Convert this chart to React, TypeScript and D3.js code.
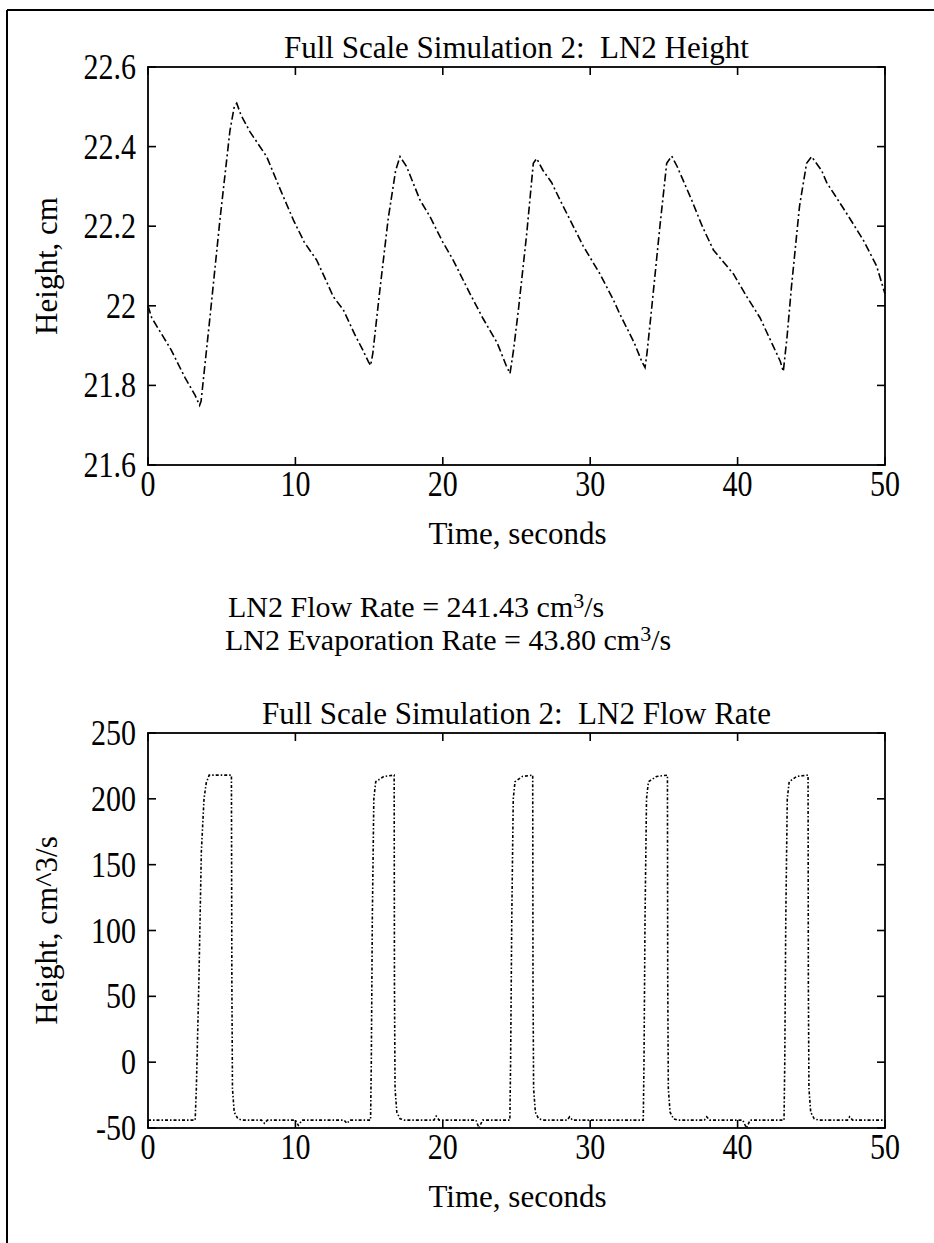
import React from "react";
import * as d3 from "d3";

// ---------- Data ----------
const xTicks = [0, 10, 20, 30, 40, 50];
const heightTicks = [21.6, 21.8, 22, 22.2, 22.4, 22.6];
const heightTickLabels = ["21.6", "21.8", "22", "22.2", "22.4", "22.6"];
const flowTicks = [-50, 0, 50, 100, 150, 200, 250];
const flowTickLabels = ["-50", "0", "50", "100", "150", "200", "250"];

const heightTime = [
  0, 0.25, 1.56, 2.5, 3.2, 3.5, 3.6, 4.2, 4.88, 5.56, 5.85, 6.02, 6.3, 6.92, 8.05, 9.0, 9.86, 10.6, 11.44, 12.0,
  12.57, 13.25, 14.0, 14.57, 14.95, 15.1, 15.25, 15.7, 16.3, 16.8, 17.1, 17.54, 18.45, 19.13, 20.0, 20.7, 21.85,
  22.7, 23.7, 24.3, 24.56, 24.8, 25.13, 25.69, 26.14, 26.37, 26.8, 27.38, 27.95, 28.63, 29.53, 30.66, 31.57, 32.0,
  33.0, 33.5, 33.72, 33.85, 34.16, 34.73, 35.19, 35.53, 35.9, 36.88, 37.6, 38.36, 39.72, 40.62, 41.52, 42.4, 42.9,
  43.1, 43.35, 43.66, 44.2, 44.68, 45.02, 45.7, 46.04, 47.4, 48.53, 49.43, 50,
];
const heightValue = [
  22.0, 21.97, 21.89, 21.82, 21.775, 21.75, 21.76, 21.97, 22.216, 22.44, 22.5, 22.509, 22.48, 22.437, 22.375,
  22.29, 22.216, 22.16, 22.115, 22.07, 22.023, 21.99, 21.93, 21.889, 21.86, 21.85, 21.88, 22.03, 22.22, 22.34,
  22.375, 22.35, 22.266, 22.224, 22.16, 22.115, 22.03, 21.97, 21.906, 21.85, 21.83, 21.889, 21.99, 22.18, 22.358,
  22.37, 22.34, 22.31, 22.266, 22.216, 22.15, 22.08, 22.015, 21.98, 21.906, 21.86, 21.845, 21.88, 21.99, 22.2,
  22.358, 22.376, 22.35, 22.266, 22.2, 22.14, 22.08, 22.023, 21.97, 21.9, 21.86, 21.835, 21.92, 22.05, 22.25,
  22.358, 22.375, 22.34, 22.31, 22.232, 22.165, 22.1, 22.03,
];

const flowTime = [
  0, 3.2, 3.28, 3.45, 3.62, 3.8, 3.95, 4.15, 5.66, 5.69, 5.73, 5.85, 6.1, 6.4, 7.7, 7.9, 8.1, 10.0, 10.2, 10.45,
  13.3, 13.5, 13.7, 15.1, 15.15, 15.22, 15.32, 15.45, 16.0, 16.7, 16.72, 16.76, 16.88, 17.1, 17.4, 19.4, 19.55,
  19.75, 22.25, 22.45, 22.7, 24.55, 24.6, 24.68, 24.78, 24.9, 25.4, 26.1, 26.12, 26.16, 26.28, 26.5, 26.8, 28.45,
  28.6, 28.8, 33.6, 33.65, 33.72, 33.82, 33.95, 34.5, 35.24, 35.26, 35.3, 35.42, 35.65, 35.95, 37.75, 37.9, 38.1,
  40.35, 40.6, 40.85, 43.15, 43.2, 43.27, 43.37, 43.5, 44.0, 44.78, 44.8, 44.84, 44.96, 45.2, 45.5, 47.45, 47.6,
  47.8, 50,
];
const flowValue = [
  -44, -44, -20, 60, 160, 200, 212, 218, 218, 60, -20, -38, -43, -44, -44, -46.5, -44, -44, -48, -44,
  -44, -46.5, -44, -44, 0, 110, 200, 213, 217, 218, 60, -20, -38, -43, -44, -44, -41,
  -44, -44, -50, -44, -44, 0, 110, 200, 213, 217, 218, 60, -20, -38, -43, -44, -44,
  -41.5, -44, -44, 0, 110, 200, 213, 217, 218, 60, -20, -38, -43, -44, -44, -41.5, -44,
  -44, -50, -44, -44, 0, 110, 200, 213, 217, 218, 60, -20, -38, -43, -44, -44, -41.5,
  -44, -44,
];

// ---------- Layout ----------
const W = 934;
const H = 1243;
const FONT = "'Liberation Serif', 'Times New Roman', serif";
const TICK_FS = 30;
const TICK_SY = 1.22;
const LABEL_FS = 31;
const TICK_LEN = 8;

type PanelProps = {
  top: number;
  bottom: number;
  yDomain: [number, number];
  yTicks: number[];
  yTickLabels: string[];
  title: string;
  yLabel: string;
  xs: number[];
  ys: number[];
  dash: string;
};

const X0 = 148;
const X1 = 885;

function Panel({ top, bottom, yDomain, yTicks, yTickLabels, title, yLabel, xs, ys, dash }: PanelProps) {
  const x = d3.scaleLinear().domain([0, 50]).range([X0, X1]);
  const y = d3.scaleLinear().domain(yDomain).range([bottom, top]);
  const line = d3
    .line<number>()
    .x((_, i) => x(xs[i]))
    .y((d) => y(d));
  const path = line(ys) || "";
  const midY = (top + bottom) / 2;
  return (
    <g>
      <text
        x={(X0 + X1) / 2}
        y={top - 9}
        textAnchor="middle"
        fontSize={LABEL_FS}
        fontFamily={FONT}
        xmlSpace="preserve"
      >
        {title}
      </text>
      <path d={path} fill="none" stroke="#000" strokeWidth={1.6} strokeDasharray={dash} />
      <rect x={X0} y={top} width={X1 - X0} height={bottom - top} fill="none" stroke="#000" strokeWidth={1.8} />
      {xTicks.map((t) => (
        <g key={"x" + t}>
          <line x1={x(t)} x2={x(t)} y1={bottom} y2={bottom - TICK_LEN} stroke="#000" strokeWidth={1.6} />
          <line x1={x(t)} x2={x(t)} y1={top} y2={top + TICK_LEN} stroke="#000" strokeWidth={1.6} />
          <text
            transform={`translate(${x(t)}, ${bottom + 31}) scale(1, ${TICK_SY})`}
            textAnchor="middle"
            fontSize={TICK_FS}
            fontFamily={FONT}
          >
            {String(t)}
          </text>
        </g>
      ))}
      {yTicks.map((t, i) => (
        <g key={"y" + t}>
          <line x1={X0} x2={X0 + TICK_LEN} y1={y(t)} y2={y(t)} stroke="#000" strokeWidth={1.6} />
          <line x1={X1} x2={X1 - TICK_LEN} y1={y(t)} y2={y(t)} stroke="#000" strokeWidth={1.6} />
          <text
            transform={`translate(${X0 - 12}, ${y(t) + 12}) scale(1, ${TICK_SY})`}
            textAnchor="end"
            fontSize={TICK_FS}
            fontFamily={FONT}
          >
            {yTickLabels[i]}
          </text>
        </g>
      ))}
      <text
        transform={`translate(57, ${midY}) rotate(-90)`}
        textAnchor="middle"
        fontSize={LABEL_FS}
        fontFamily={FONT}
      >
        {yLabel}
      </text>
      <text x={(X0 + X1) / 2 + 1} y={bottom + 79} textAnchor="middle" fontSize={LABEL_FS} fontFamily={FONT}>
        Time, seconds
      </text>
    </g>
  );
}

export default function App() {
  return (
    <svg
      width={W}
      height={H}
      viewBox={`0 0 ${W} ${H}`}
      style={{ position: "absolute", left: 0, top: 0, background: "#fff" }}
    >
      <rect x={0} y={0} width={W} height={H} fill="#fff" />
      <line x1={7} x2={W} y1={10} y2={10} stroke="#000" strokeWidth={2} />
      <line x1={7} x2={7} y1={10} y2={H} stroke="#000" strokeWidth={2} />

      <Panel
        top={67}
        bottom={465}
        yDomain={[21.6, 22.6]}
        yTicks={heightTicks}
        yTickLabels={heightTickLabels}
        title="Full Scale Simulation 2:  LN2 Height"
        yLabel="Height, cm"
        xs={heightTime}
        ys={heightValue}
        dash="8 3 2 3"
      />

      <text x={228} y={617} fontSize={30} fontFamily={FONT}>
        LN2 Flow Rate = 241.43 cm<tspan fontSize={22} dy={-9}>3</tspan>
        <tspan dy={9}>/s</tspan>
      </text>
      <text x={225} y={650} fontSize={30} fontFamily={FONT}>
        LN2 Evaporation Rate = 43.80 cm<tspan fontSize={22} dy={-9}>3</tspan>
        <tspan dy={9}>/s</tspan>
      </text>

      <Panel
        top={733}
        bottom={1128}
        yDomain={[-50, 250]}
        yTicks={flowTicks}
        yTickLabels={flowTickLabels}
        title="Full Scale Simulation 2:  LN2 Flow Rate"
        yLabel="Height, cm^3/s"
        xs={flowTime}
        ys={flowValue}
        dash="3 2 1.5 2"
      />
    </svg>
  );
}
